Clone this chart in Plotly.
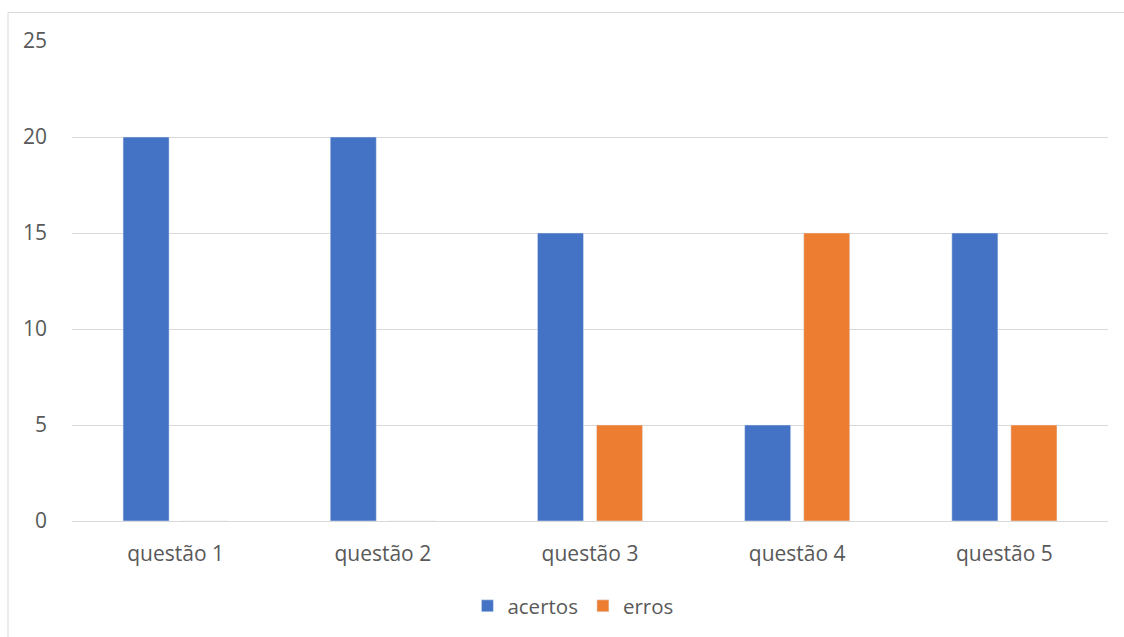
import plotly.graph_objects as go

categories = ["questão 1", "questão 2", "questão 3", "questão 4", "questão 5"]
acertos = [20, 20, 15, 5, 15]
erros = [0, 0, 5, 15, 5]
y_ticks = [0, 5, 10, 15, 20, 25]

W, H = 1124, 637
L, R, T, B = 72, 16, 41, 116
pw, ph = W - L - R, H - T - B

def px_x(p):
    return (p - L) / pw

def px_y(p):
    return (H - B - p) / ph

font = "Open Sans"
txt = "#595959"
fig = go.Figure()
fig.add_trace(go.Bar(x=categories, y=acertos, name="acertos", marker_color="#4472C4"))
fig.add_trace(go.Bar(x=categories, y=erros, name="erros", marker_color="#ED7D31"))

fig.update_layout(
    width=W, height=H,
    margin=dict(l=L, r=R, t=T, b=B, autoexpand=False),
    paper_bgcolor="white", plot_bgcolor="white",
    barmode="group", bargap=0.43, bargroupgap=0.22,
    font=dict(family=font, size=21, color=txt),
    showlegend=True,
    legend=dict(orientation="h", x=0.4835, xanchor="center", y=px_y(606), yanchor="middle",
                font=dict(size=20.5, color=txt), itemclick=False, traceorder="normal"),
    xaxis=dict(showgrid=False, showline=False, ticks="", ticklabelstandoff=18,
               tickfont=dict(size=21, color=txt)),
    yaxis=dict(range=[0, 25], tickvals=y_ticks, showgrid=True, gridcolor="#D9D9D9", gridwidth=1,
               zeroline=True, zerolinecolor="#D9D9D9", zerolinewidth=1,
               ticks="", ticklabelstandoff=24, tickfont=dict(size=21, color=txt)),
    shapes=[dict(type="rect", xref="paper", yref="paper",
                 x0=px_x(8), x1=px_x(1135), y0=px_y(650), y1=px_y(12.5),
                 line=dict(color="#D9D9D9", width=1), fillcolor="rgba(0,0,0,0)", layer="below")],
)

fig.write_html("out.html")
